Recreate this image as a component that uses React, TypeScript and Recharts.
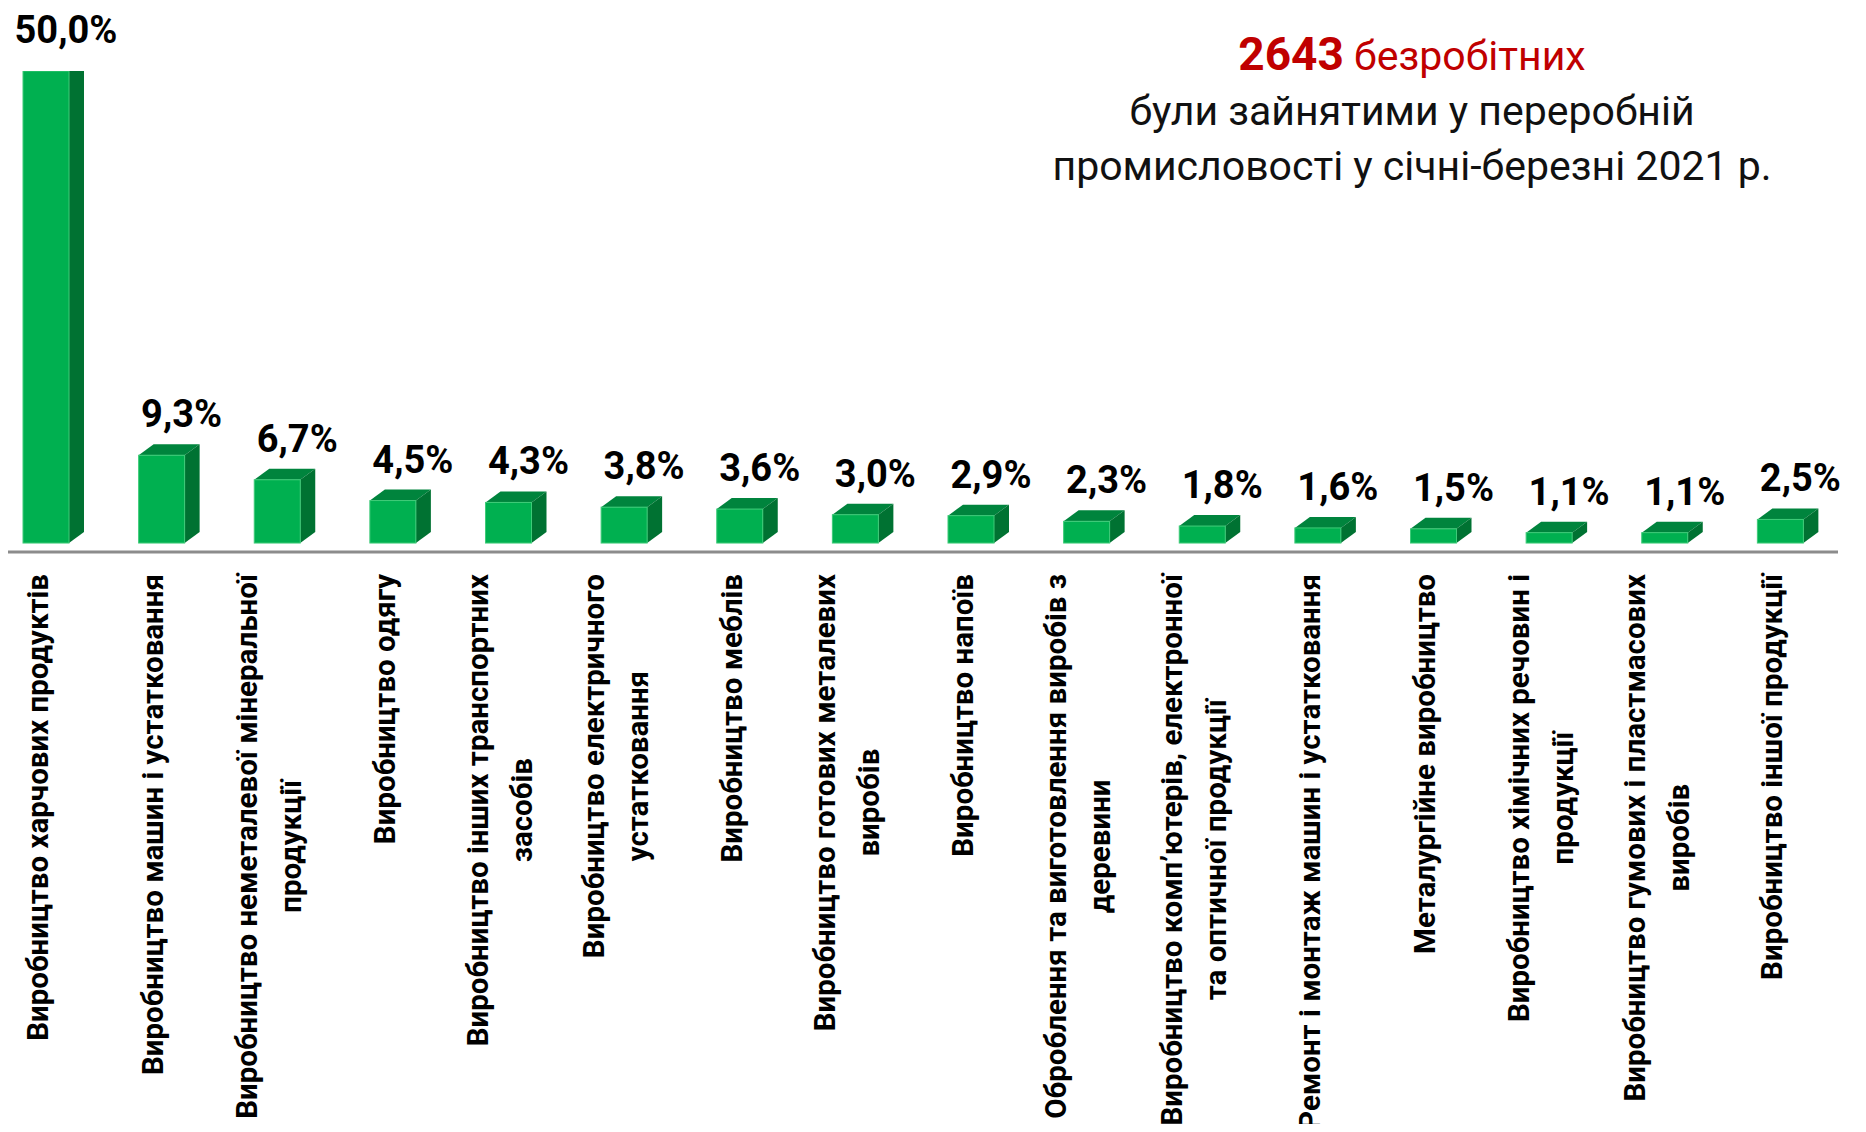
import { BarChart, Bar, XAxis, YAxis, LabelList } from 'recharts'

const categories = [
  'Виробництво харчових продуктів',
  'Виробництво машин і устатковання',
  'Виробництво неметалевої мінеральної\nпродукції',
  'Виробництво одягу',
  'Виробництво інших транспортних\nзасобів',
  'Виробництво електричного\nустатковання',
  'Виробництво меблів',
  'Виробництво готових металевих\nвиробів',
  'Виробництво напоїв',
  'Оброблення та виготовлення виробів з\nдеревини',
  'Виробництво комп’ютерів, електронної\nта оптичної продукції',
  'Ремонт і монтаж машин і устатковання',
  'Металургійне виробництво',
  'Виробництво хімічних речовин і\nпродукції',
  'Виробництво гумових і пластмасових\nвиробів',
  'Виробництво іншої продукції',
]

const shares = [50.0, 9.3, 6.7, 4.5, 4.3, 3.8, 3.6, 3.0, 2.9, 2.3, 1.8, 1.6, 1.5, 1.1, 1.1, 2.5]

const unemployedCount = '2643'
const titleLines = [
  ' безробітних',
  'були зайнятими у переробній',
  'промисловості у січні-березні 2021 р.',
]

const data = categories.map((name, i) => ({ name, value: shares[i] }))

const AXIS_FONT = '"Liberation Sans Narrow", "Arial Narrow", Roboto, sans-serif'
const AXIS_SIZE = 29.5
const TITLE_FONT = 'Roboto, "Noto Sans", sans-serif'

let measureCtx: CanvasRenderingContext2D | null = null
function textWidth(text: string, font: string) {
  if (!measureCtx) measureCtx = document.createElement('canvas').getContext('2d')
  if (!measureCtx) return text.length * 15
  measureCtx.font = font
  return measureCtx.measureText(text).width
}

function Box3D(props: any) {
  const { x, y, width, height } = props
  if (!height || height <= 0) return null
  const dx = 15
  const dy = 11
  return (
    <g>
      <path
        d={`M${x},${y} L${x + dx},${y - dy} L${x + width + dx},${y - dy} L${x + width},${y} Z`}
        fill="#00843D"
      />
      <path
        d={`M${x + width},${y} L${x + width + dx},${y - dy} L${x + width + dx},${y + height - dy} L${x + width},${y + height} Z`}
        fill="#007232"
      />
      <rect x={x} y={y} width={width} height={height} fill="#00B050" stroke="#3ECB78" strokeWidth={1} />
    </g>
  )
}

function ValueLabel(props: any) {
  const { x, y, width, value } = props
  const txt = Number(value).toFixed(1).replace('.', ',') + '%'
  return (
    <text
      x={x + width / 2 + 20}
      y={y - 28}
      textAnchor="middle"
      fontFamily={TITLE_FONT}
      fontWeight={700}
      fontSize={38}
      fill="#000"
    >
      {txt}
    </text>
  )
}

function CategoryTick(props: any) {
  const { x, y, payload } = props
  const lines = String(payload.value).split('\n')
  const font = `bold ${AXIS_SIZE}px ${AXIS_FONT}`
  const longest = Math.max(...lines.map((l) => textWidth(l, font)))
  const cy = y + 22 + longest / 2
  const cx = x - 8
  return (
    <g>
      {lines.map((line, i) => {
        const lx = cx + (i - (lines.length - 1) / 2) * 44
        return (
          <text
            key={i}
            x={lx}
            y={cy}
            transform={`rotate(-90 ${lx} ${cy})`}
            textAnchor="middle"
            dominantBaseline="central"
            fontFamily={AXIS_FONT}
            fontWeight={700}
            fontSize={AXIS_SIZE}
            fill="#000"
          >
            {line}
          </text>
        )
      })}
    </g>
  )
}

export default function App() {
  return (
    <div style={{ position: 'relative', width: 1866, height: 1132, margin: -8, overflow: 'hidden', background: '#fff' }}>
      <div style={{ position: 'absolute', left: -12, top: 0 }}>
        <BarChart width={1880} height={1132} data={data} margin={{ top: 71, right: 30, left: 0, bottom: 0 }}>
          <YAxis hide domain={[-0.95, 50]} allowDataOverflow />
          <XAxis
            dataKey="name"
            interval={0}
            height={580}
            tickLine={false}
            tickSize={0}
            tickMargin={0}
            axisLine={{ stroke: '#8C8C8C', strokeWidth: 3 }}
            tick={<CategoryTick />}
          />
          <Bar dataKey="value" barSize={46} shape={<Box3D />} isAnimationActive={false}>
            <LabelList dataKey="value" content={<ValueLabel />} />
          </Bar>
        </BarChart>
      </div>
      <svg width={1866} height={200} style={{ position: 'absolute', left: 0, top: 0, pointerEvents: 'none' }}>
        <text x={1412} y={70} textAnchor="middle" fontFamily={TITLE_FONT} fill="#C00000">
          <tspan fontWeight={700} fontSize={46}>{unemployedCount}</tspan>
          <tspan fontSize={41}>{titleLines[0]}</tspan>
        </text>
        <text x={1412} y={125} textAnchor="middle" fontFamily={TITLE_FONT} fontSize={41} fill="#111">
          {titleLines[1]}
        </text>
        <text x={1412} y={180} textAnchor="middle" fontFamily={TITLE_FONT} fontSize={41} fill="#111">
          {titleLines[2]}
        </text>
      </svg>
    </div>
  )
}
